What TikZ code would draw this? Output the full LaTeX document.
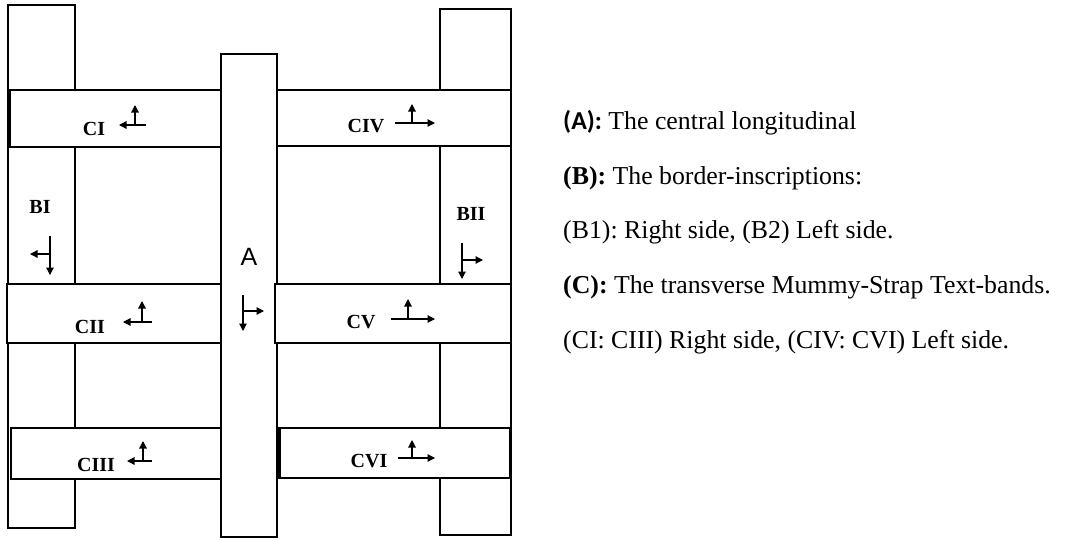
\documentclass[tikz,border=0pt]{standalone}
\usepackage{fontspec}
\setmainfont{Liberation Serif}
\newfontfamily\calibrifont{Carlito}
\newfontfamily\arialfont{Liberation Sans}
\usetikzlibrary{arrows.meta}
\frenchspacing
\begin{document}
\begin{tikzpicture}[x=1pt,y=-1pt,
  strip/.style={draw=black, line width=1.7pt, fill=white},
  edge/.style={line width=3.6pt},
  tag/.style={font=\fontsize{20}{21}\selectfont\bfseries, inner sep=0pt, anchor=base},
  dirarrow/.style={line width=1.2pt, -{Triangle[length=7.5pt,width=7.5pt]}},
  legend/.style={font=\fontsize{25.8}{28}\selectfont, inner sep=0pt, anchor=base west}]
\useasboundingbox (0,0) rectangle (1075,539);

% longitudinal strips: border inscriptions and central column
\draw[strip] (8,5) rectangle (75,528);
\draw[strip] (440,9) rectangle (511,535);
\draw[strip] (221,54) rectangle (277,537);

% transverse bands
\draw[strip] (9,90) rectangle (221,147);
\draw[strip] (7,284) rectangle (221,343);
\draw[strip] (11,428) rectangle (221,479);
\draw[strip] (277,90) rectangle (511,146);
\draw[strip] (275,284) rectangle (511,343);
\draw[strip] (279,428) rectangle (510,478);
\draw[edge] (9.5,90) -- (9.5,147);
\draw[edge] (279.5,428) -- (279.5,478);

% labels
\node[tag] (ci)   at (94,135)  {CI};
\node[tag] (cii)  at (90,333)  {CII};
\node[tag] (ciii) at (96,471)  {CIII};
\node[tag] (civ)  at (366,132) {CIV};
\node[tag] (cv)   at (361,328) {CV};
\node[tag] (cvi)  at (369,467) {CVI};
\node[tag] (bi)   at (40,213)  {BI};
\node[tag] (bii)  at (471,220) {BII};
\node[inner sep=0pt, anchor=base, font=\arialfont\fontsize{25}{26}\selectfont] (a) at (249,265) {A};

% reading directions
\draw[dirarrow] (146,125) -- (119,125);
\draw[dirarrow] (135,125) -- (135,105);
\draw[dirarrow] (152,322) -- (123,322);
\draw[dirarrow] (142,322) -- (142,301);
\draw[dirarrow] (152,461) -- (127,461);
\draw[dirarrow] (143,461) -- (143,441);
\draw[dirarrow] (395,123) -- (435,123);
\draw[dirarrow] (412,123) -- (412,104);
\draw[dirarrow] (391,319) -- (435,319);
\draw[dirarrow] (408,319) -- (408,299);
\draw[dirarrow] (398,458) -- (435,458);
\draw[dirarrow] (412,458) -- (412,440);
\draw[dirarrow] (50,236) -- (50,275);
\draw[dirarrow] (50,254) -- (30,254);
\draw[dirarrow] (462,243) -- (462,279);
\draw[dirarrow] (462,260) -- (483,260);
\draw[dirarrow] (243,295) -- (243,331);
\draw[dirarrow] (243,311) -- (264,311);

% key
\node[legend] (ka) at (563,129.5) {{\calibrifont\bfseries (A):} The central longitudinal};
\node[legend] (kb) at (563,184) {\textbf{(B):} The border-inscriptions:};
\node[legend] (kb1) at (563,238.5) {(B1): Right side, (B2) Left side.};
\node[legend] (kc) at (563,293.5) {\textbf{(C):} The transverse Mummy-Strap Text-bands.};
\node[legend] (kc1) at (563,348) {(CI: CIII) Right side, (CIV: CVI) Left side.};
\end{tikzpicture}
\end{document}
